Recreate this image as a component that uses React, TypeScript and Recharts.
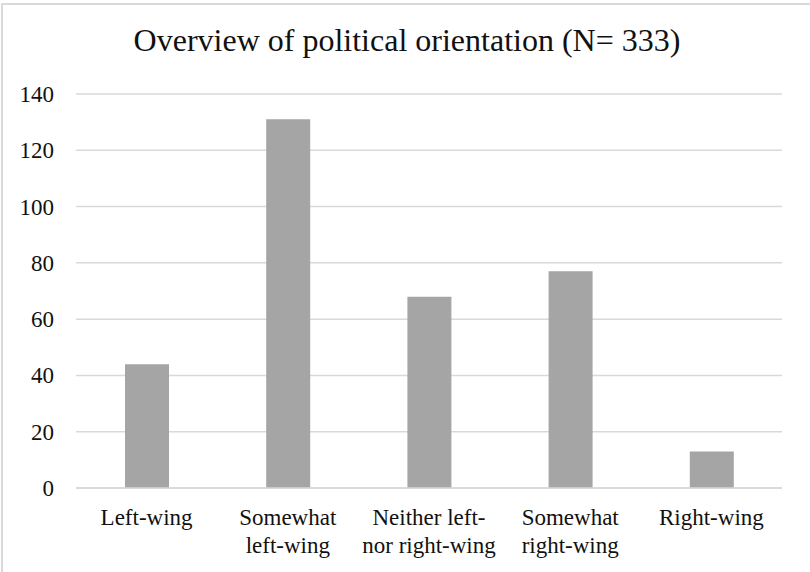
import React from 'react';
import { BarChart, Bar, XAxis, YAxis, CartesianGrid } from 'recharts';

// Category labels ("\n" marks a line break in the axis label)
const categories = [
  'Left-wing',
  'Somewhat\nleft-wing',
  'Neither left-\nnor right-wing',
  'Somewhat\nright-wing',
  'Right-wing',
];
// Number of respondents per orientation
const counts = [44, 131, 68, 77, 13];
const yTicks = [0, 20, 40, 60, 80, 100, 120, 140];
const title = 'Overview of political orientation (N= 333)';

const data = categories.map((name, i) => ({ name, value: counts[i] }));

const FONT = '"Liberation Serif"';
const GRID = '#d9d9d9';
const BAR = '#a5a5a5';
const TEXT = '#111';

const CategoryTick = (props: any) => {
  const { x, y, payload } = props;
  const lines = String(payload.value).split('\n');
  return (
    <text x={x} y={y} textAnchor="middle" fontFamily="Liberation Serif" fontSize={23} fill={TEXT}>
      {lines.map((line, i) => (
        <tspan key={i} x={x} y={y + 37 + i * 28}>
          {line}
        </tspan>
      ))}
    </text>
  );
};

const ValueTick = (props: any) => {
  const { x, y, payload } = props;
  return (
    <text x={x} y={y + 8} textAnchor="end" fontFamily="Liberation Serif" fontSize={23} fill={TEXT}>
      {payload.value}
    </text>
  );
};

export default function App() {
  return (
    <div style={{ position: 'absolute', left: 0, top: 0, width: 810, height: 572, background: '#fff' }}>
      <div
        style={{
          position: 'absolute',
          left: 1,
          top: 3,
          width: 820,
          height: 580,
          borderLeft: `2px solid ${GRID}`,
          borderTop: `2px solid ${GRID}`,
          boxSizing: 'border-box',
        }}
      />
      <div
        style={{
          position: 'absolute',
          left: 0,
          top: 20,
          width: 810,
          textAlign: 'center',
          fontFamily: FONT,
          fontSize: 32,
          color: TEXT,
          lineHeight: '40px',
          paddingLeft: 4,
          boxSizing: 'border-box',
        }}
      >
        {title}
      </div>
      <div style={{ position: 'absolute', left: 0, top: 0 }}>
        <BarChart width={810} height={572} data={data} margin={{ top: 94, right: 28, left: 0, bottom: 0 }}>
          <CartesianGrid vertical={false} stroke={GRID} strokeWidth={1.5} />
          <XAxis
            dataKey="name"
            height={84}
            interval={0}
            tickLine={false}
            axisLine={{ stroke: GRID, strokeWidth: 1.5 }}
            tickSize={0}
            tickMargin={0}
            tick={<CategoryTick />}
          />
          <YAxis
            width={76}
            domain={[0, 140]}
            ticks={yTicks}
            interval={0}
            axisLine={false}
            tickLine={false}
            tickSize={0}
            tickMargin={22}
            tick={<ValueTick />}
          />
          <Bar dataKey="value" fill={BAR} barSize={44} isAnimationActive={false} />
        </BarChart>
      </div>
    </div>
  );
}
